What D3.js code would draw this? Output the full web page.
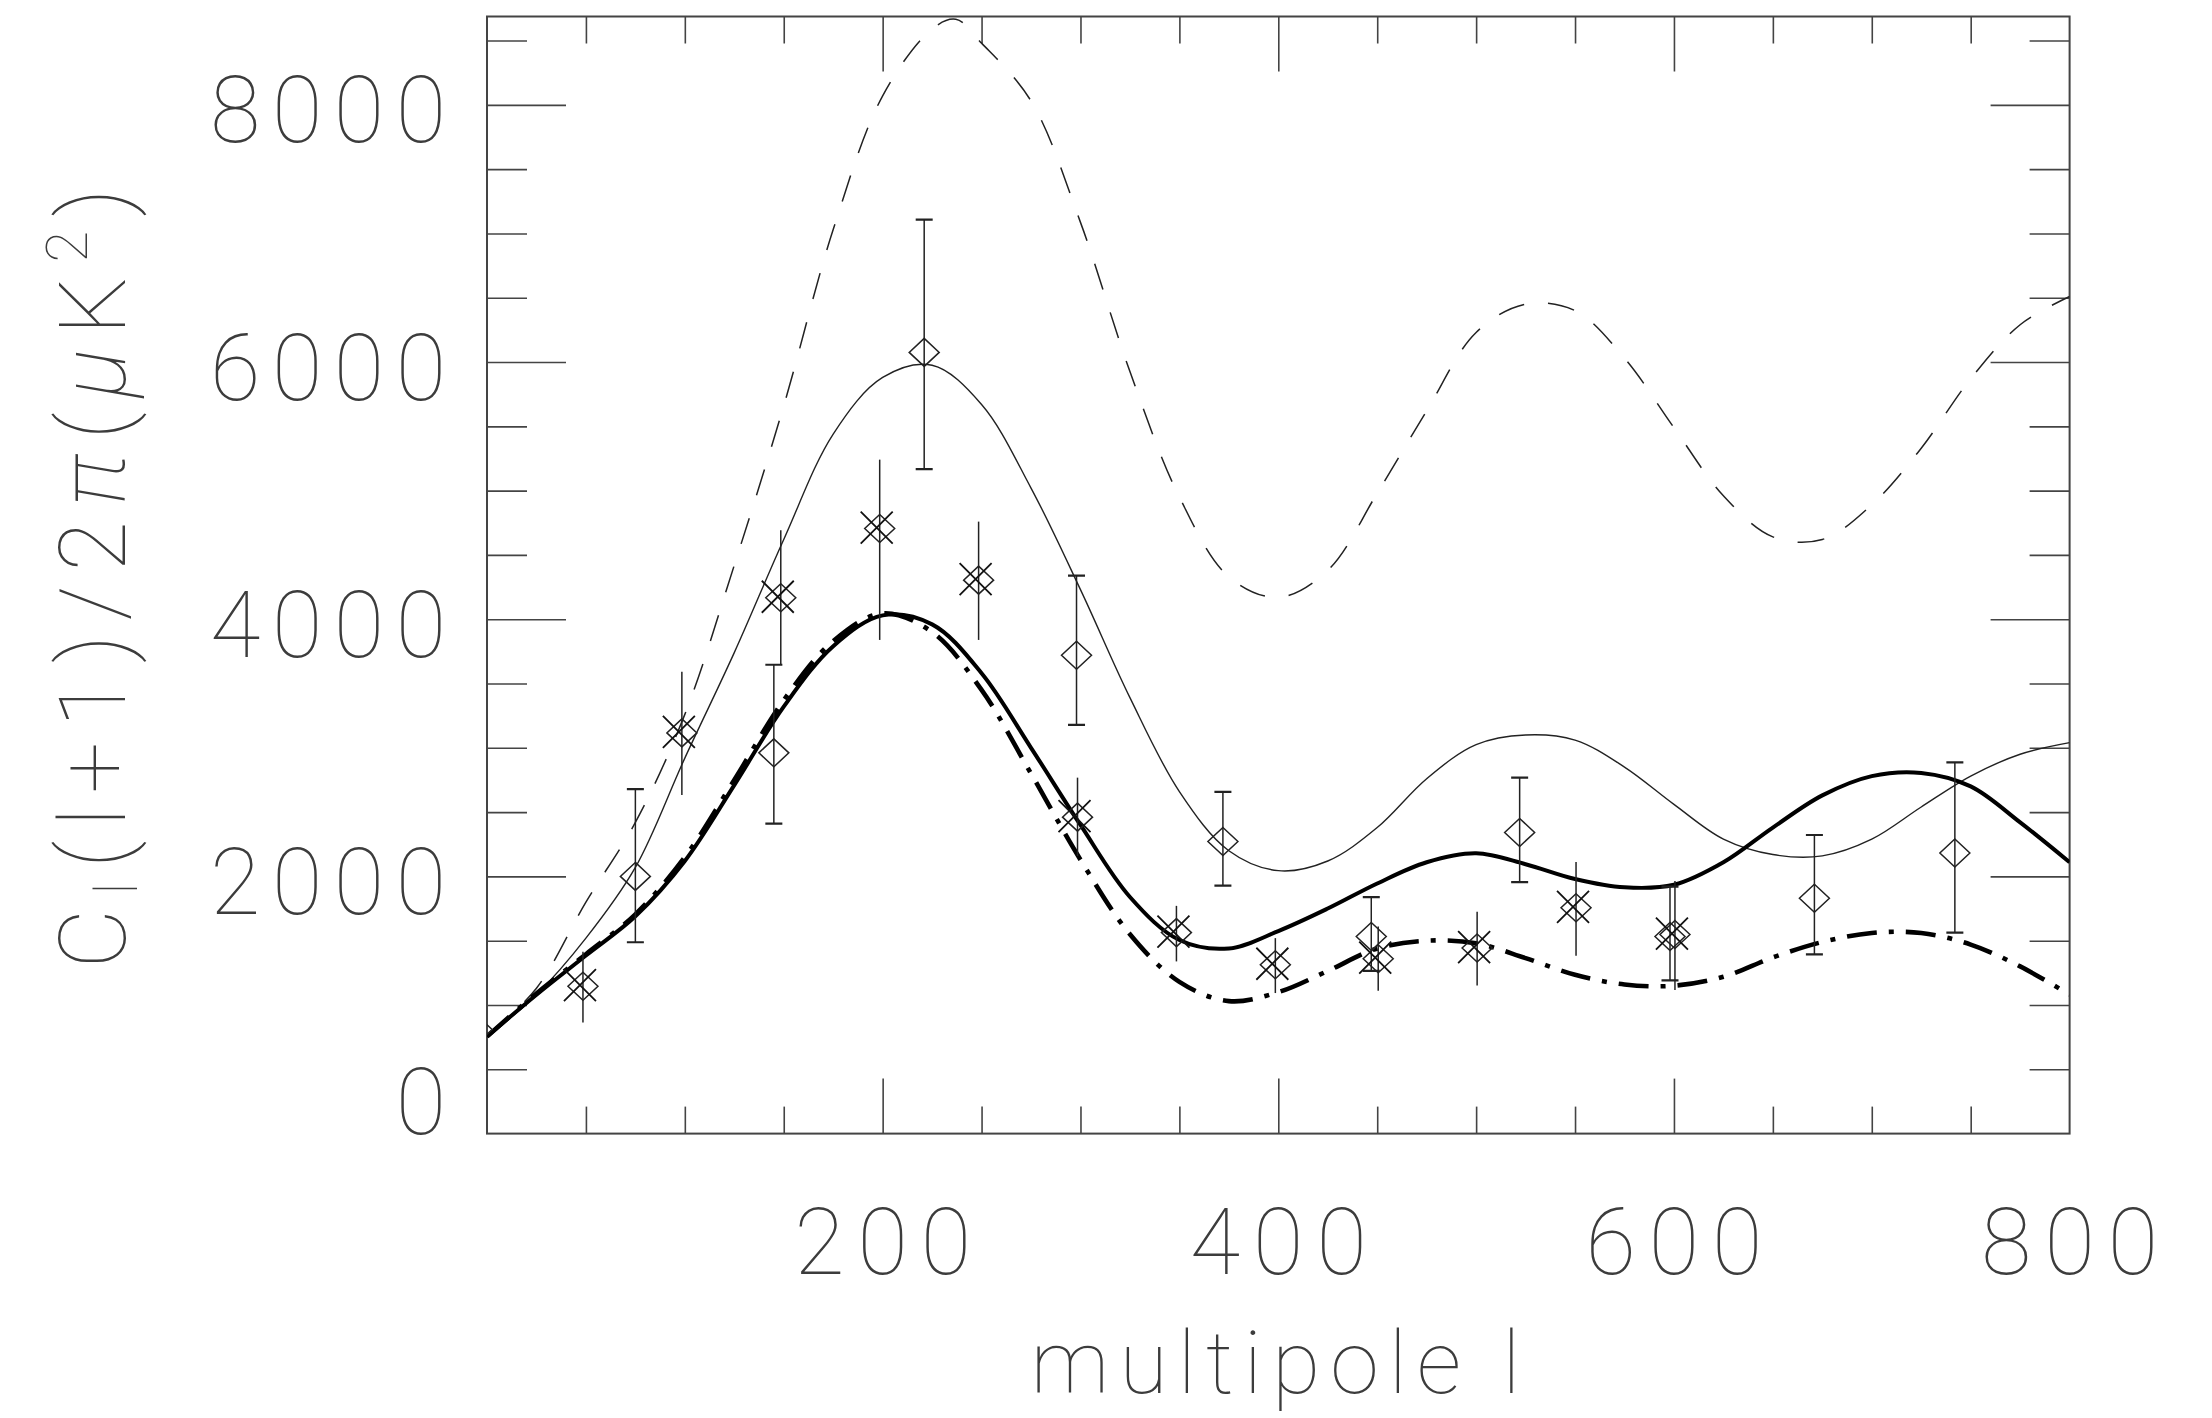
<!DOCTYPE html>
<html>
<head>
<meta charset="utf-8">
<script src="https://cdn.jsdelivr.net/npm/d3@7"></script>
<style>
  html, body { margin: 0; padding: 0; background: #fff; }
  svg { display: block; }
  text { font-family: Roboto, "Open Sans", sans-serif; font-weight: 100; fill: #3c3c3c; }
</style>
</head>
<body>
<svg id="chart" width="2212" height="1418"></svg>
<script>
// ---- model spectra: multipole grid and C_l l(l+1)/2pi values (muK^2) ----
const gridL = [0, 25, 50, 75, 100, 125, 150, 175, 200, 225, 250, 275, 300, 325, 350, 375, 400,
               425, 450, 475, 500, 525, 550, 575, 600, 625, 650, 675, 700, 725, 750, 775, 800];

// thick solid model
const modelThick = [755, 1080, 1385, 1690, 2120, 2710, 3320, 3790, 4030, 3960, 3580, 3000, 2400, 1840, 1505, 1440, 1575,
                    1750, 1945, 2110, 2180, 2095, 1980, 1915, 1935, 2110, 2380, 2630, 2780, 2805, 2700, 2420, 2110];

// thick dash-dot model
const modelDashDot = [755, 1090, 1395, 1705, 2150, 2750, 3370, 3830, 4045, 3900, 3450, 2800, 2130, 1550, 1180, 1030, 1100,
                      1265, 1440, 1500, 1480, 1365, 1235, 1160, 1150, 1220, 1370, 1490, 1560, 1560, 1470, 1300, 1080];

// thin solid model
const modelThin = [755, 1080, 1520, 2070, 2920, 3740, 4620, 5440, 5880, 5975, 5670, 5020, 4230, 3390, 2660, 2200, 2045,
                   2120, 2380, 2760, 3025, 3100, 3060, 2850, 2560, 2290, 2170, 2160, 2290, 2540, 2780, 2950, 3040];

// thin dashed model (extra node at its first maximum)
const dashedL = [0, 25, 50, 75, 100, 125, 150, 175, 200, 225, 237, 250, 275, 300, 325, 350, 375, 400,
                 425, 450, 475, 500, 525, 550, 575, 600, 625, 650, 675, 700, 725, 750, 775, 800];
const modelDashed = [755, 1130, 1800, 2420, 3260, 4420, 5660, 7030, 8070, 8590, 8665, 8480, 8030, 7086, 5926, 4950, 4330, 4170,
                     4380, 4980, 5620, 6230, 6450, 6400, 6030, 5490, 4960, 4640, 4620, 4890, 5330, 5870, 6290, 6510];

// ---- band powers, set 1: diamonds with capped error bars ----
const diamondL  = [-5, 75, 145, 221, 298, 372, 447, 522, 598, 671, 742];
const diamondV  = [810, 2000, 2961, 6075, 3720, 2271, 1533, 2342, 1533, 1830, 2182];
const diamondLo = [810, 1488, 2411, 5167, 3179, 1929, 1265, 1955, 1191, 1393, 1563];
const diamondHi = [810, 2679, 3646, 7107, 4339, 2658, 1839, 2768, 1920, 2322, 2887];

// ---- band powers, set 2: crossed diamonds with plain error bars ----
const crossL  = [48, 98, 148, 198, 248, 298, 348, 398, 450, 500, 550, 600];
const crossV  = [1146, 3116, 4167, 4705, 4304, 2461, 1563, 1313, 1360, 1443, 1756, 1548];
const crossLo = [863, 2634, 3646, 3839, 3839, 2158, 1339, 1093, 1110, 1152, 1384, 1116];
const crossHi = [1414, 3592, 4691, 5241, 4759, 2768, 1771, 1520, 1610, 1726, 2113, 1965];

// ---- axis ticks and labels ----
const xMinorTicks = d3.range(50, 751, 50);
const xMajorTicks = [200, 400, 600];
const xTickLabels = [200, 400, 600, 800];
const yMinorTicks = d3.range(500, 8501, 500);
const yMajorTicks = [2000, 4000, 6000, 8000];
const yTickLabels = [0, 2000, 4000, 6000, 8000];

// ---- layout ----
const frame = { left: 487, right: 2069.6, top: 16.5, bottom: 1133.6 };
const svg = d3.select("#chart");

const x = d3.scaleLinear().domain([0, 800]).range([frame.left, frame.right]);
const y = d3.scaleLinear().domain([0, 8687]).range([frame.bottom, frame.top]);

svg.append("rect").attr("width", 2212).attr("height", 1418).attr("fill", "#fff");

svg.append("defs").append("clipPath").attr("id", "plot-clip")
  .append("rect")
  .attr("x", frame.left).attr("y", frame.top)
  .attr("width", frame.right - frame.left).attr("height", frame.bottom - frame.top);

// ---- tick marks on all four sides, pointing inward ----
const tickColor = "#444";
function styleAxis(g) {
  g.select(".domain").remove();
  g.selectAll(".tick text").remove();
  g.selectAll(".tick line").attr("stroke", tickColor).attr("stroke-width", 1.6);
}
const isMajorX = d => xMajorTicks.includes(d);
const isMajorY = d => yMajorTicks.includes(d);

svg.append("g").attr("transform", `translate(${frame.left},0)`)
  .call(d3.axisLeft(y).tickValues(yMinorTicks).tickSizeInner(-40).tickSizeOuter(0))
  .call(styleAxis)
  .selectAll(".tick line").filter(isMajorY).attr("x2", 79);

svg.append("g").attr("transform", `translate(${frame.right},0)`)
  .call(d3.axisRight(y).tickValues(yMinorTicks).tickSizeInner(-40).tickSizeOuter(0))
  .call(styleAxis)
  .selectAll(".tick line").filter(isMajorY).attr("x2", -79);

svg.append("g").attr("transform", `translate(0,${frame.bottom})`)
  .call(d3.axisBottom(x).tickValues(xMinorTicks).tickSizeInner(-27).tickSizeOuter(0))
  .call(styleAxis)
  .selectAll(".tick line").filter(isMajorX).attr("y2", -55);

svg.append("g").attr("transform", `translate(0,${frame.top})`)
  .call(d3.axisTop(x).tickValues(xMinorTicks).tickSizeInner(-27).tickSizeOuter(0))
  .call(styleAxis)
  .selectAll(".tick line").filter(isMajorX).attr("y2", 55);

// frame
svg.append("rect")
  .attr("x", frame.left).attr("y", frame.top)
  .attr("width", frame.right - frame.left).attr("height", frame.bottom - frame.top)
  .attr("fill", "none").attr("stroke", "#444").attr("stroke-width", 2);

// ---- tick labels ----
svg.append("g").selectAll("text").data(yTickLabels).join("text")
  .attr("x", 446)
  .attr("y", d => Math.min(y(d) + 37.5, frame.bottom))
  .attr("text-anchor", "end")
  .attr("font-size", 92)
  .attr("textLength", d => String(d).length * 59)
  .attr("lengthAdjust", "spacing")
  .text(d => d);

svg.append("g").selectAll("text").data(xTickLabels).join("text")
  .attr("x", d => x(d))
  .attr("y", 1274)
  .attr("text-anchor", "middle")
  .attr("font-size", 92)
  .attr("textLength", d => String(d).length * 59)
  .attr("lengthAdjust", "spacing")
  .text(d => d);

// ---- axis titles ----
svg.append("text")
  .attr("x", 1275.5).attr("y", 1393)
  .attr("text-anchor", "middle")
  .attr("font-size", 88)
  .attr("textLength", 490)
  .attr("lengthAdjust", "spacing")
  .text("multipole l");

const yTitle = svg.append("text")
  .attr("transform", "translate(125,578.5) rotate(-90)")
  .attr("text-anchor", "middle")
  .attr("font-size", 92)
  .attr("textLength", 780)
  .attr("lengthAdjust", "spacing");
yTitle.append("tspan").text("C");
yTitle.append("tspan").attr("dy", 12).attr("font-size", 60).text("l");
yTitle.append("tspan").attr("dy", -12).text("(l+1)/2");
yTitle.append("tspan").attr("font-style", "italic").text("π");
yTitle.append("tspan").text("(");
yTitle.append("tspan").attr("font-style", "italic").text("μ");
yTitle.append("tspan").text("K");
yTitle.append("tspan").attr("dy", -38).attr("font-size", 58).text("2");
yTitle.append("tspan").attr("dy", 38).text(")");

// ---- curves ----
const plot = svg.append("g").attr("clip-path", "url(#plot-clip)");
const line = d3.line()
  .x(d => x(d[0]))
  .y(d => y(d[1]))
  .curve(d3.curveCatmullRom.alpha(0.5));

plot.append("path")
  .attr("d", line(d3.zip(dashedL, modelDashed)))
  .attr("fill", "none").attr("stroke", "#222").attr("stroke-width", 1.5)
  .attr("stroke-dasharray", "27,24");

plot.append("path")
  .attr("d", line(d3.zip(gridL, modelThin)))
  .attr("fill", "none").attr("stroke", "#222").attr("stroke-width", 1.4);

plot.append("path")
  .attr("d", line(d3.zip(gridL, modelThick)))
  .attr("fill", "none").attr("stroke", "#000").attr("stroke-width", 4);

plot.append("path")
  .attr("d", line(d3.zip(gridL, modelDashDot)))
  .attr("fill", "none").attr("stroke", "#000").attr("stroke-width", 4.6)
  .attr("stroke-dasharray", "30,12,5,12");

// ---- band powers ----
const diamonds = d3.range(diamondL.length).map(i => ({
  l: diamondL[i], v: diamondV[i], lo: diamondLo[i], hi: diamondHi[i]
}));
const crosses = d3.range(crossL.length).map(i => ({
  l: crossL[i], v: crossV[i], lo: crossLo[i], hi: crossHi[i]
}));

const diamondPath = (cx, cy) => `M${cx},${cy - 14}L${cx + 15},${cy}L${cx},${cy + 14}L${cx - 15},${cy}Z`;
const crossPath = (cx, cy) => `M${cx - 16},${cy - 16}L${cx + 16},${cy + 16}M${cx - 16},${cy + 16}L${cx + 16},${cy - 16}`;

// set 1
const g1 = plot.append("g").attr("stroke", "#222").attr("fill", "none");
g1.selectAll("line.bar").data(diamonds.filter(d => d.hi > d.lo)).join("line")
  .attr("class", "bar")
  .attr("x1", d => x(d.l)).attr("x2", d => x(d.l))
  .attr("y1", d => y(d.hi)).attr("y2", d => y(d.lo))
  .attr("stroke-width", 1.5);
g1.selectAll("path.cap").data(diamonds.filter(d => d.hi > d.lo)).join("path")
  .attr("class", "cap")
  .attr("d", d => `M${x(d.l) - 8.5},${y(d.hi)}h17M${x(d.l) - 8.5},${y(d.lo)}h17`)
  .attr("stroke-width", 2.2);
g1.selectAll("path.mark").data(diamonds).join("path")
  .attr("class", "mark")
  .attr("d", d => diamondPath(x(d.l), y(d.v)))
  .attr("stroke-width", 1.5);

// set 2
const g2 = plot.append("g").attr("stroke", "#222").attr("fill", "none");
g2.selectAll("line").data(crosses).join("line")
  .attr("x1", d => x(d.l) + 1).attr("x2", d => x(d.l) + 1)
  .attr("y1", d => y(d.hi)).attr("y2", d => y(d.lo))
  .attr("stroke-width", 1.5);
g2.selectAll("path.dmark").data(crosses).join("path")
  .attr("class", "dmark")
  .attr("d", d => diamondPath(x(d.l) + 1, y(d.v)))
  .attr("stroke-width", 1.5);
g2.selectAll("path.xmark").data(crosses).join("path")
  .attr("class", "xmark")
  .attr("d", d => crossPath(x(d.l) - 2, y(d.v) - 1))
  .attr("stroke", "#111")
  .attr("stroke-width", 1.8);
</script>
</body>
</html>
